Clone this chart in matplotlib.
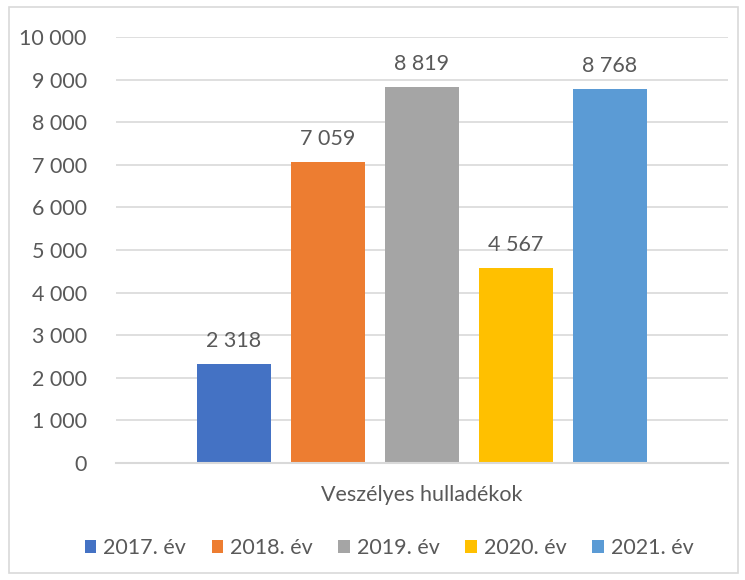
import matplotlib.pyplot as plt
from matplotlib.patches import Rectangle

category = "Veszélyes hulladékok"
years = ["2017. év", "2018. év", "2019. év", "2020. év", "2021. év"]
values = [2318, 7059, 8819, 4567, 8768]
colors = ["#4472C4", "#ED7D31", "#A5A5A5", "#FFC000", "#5B9BD5"]
yticks = list(range(0, 10001, 1000))

text_color = "#595959"
fs = 15.5
plt.rcParams["font.family"] = ["Lato", "DejaVu Sans"]


def fmt(v):
    return "{:,}".format(v).replace(",", " ")


fig = plt.figure(figsize=(7.45, 5.8), dpi=100)
# chart border
fig.patches.append(Rectangle((9 / 745, 7 / 580), 729 / 745, 566 / 580,
                             transform=fig.transFigure, fill=False,
                             edgecolor="#D9D9D9", linewidth=1.2))

ax = fig.add_axes([116 / 745, 1 - 463 / 580, 612 / 745, 426 / 580])

n = len(values)
width = 74 / 612
step = 94 / 612
start = 0.5 - step * (n - 1) / 2
for i, (lab, v, c) in enumerate(zip(years, values, colors)):
    x = start + i * step
    ax.bar(x, v, width=width, color=c, label=lab, zorder=3)
    ax.text(x, v + 310, fmt(v), ha="center", va="bottom",
            fontsize=fs, color=text_color)

ax.set_xlim(0, 1)
ax.set_ylim(0, 10000)
ax.set_yticks(yticks)
ax.set_yticklabels([fmt(t) for t in yticks], fontsize=fs, color=text_color)
ax.tick_params(axis="y", length=0, pad=21)
ax.set_xticks([0.5])
ax.set_xticklabels([category], fontsize=fs, color=text_color)
ax.tick_params(axis="x", length=0, pad=16)
ax.grid(axis="y", color="#D9D9D9", linewidth=1.2, zorder=0)
for s in ["top", "right", "left"]:
    ax.spines[s].set_visible(False)
ax.spines["bottom"].set_color("#D9D9D9")
ax.spines["bottom"].set_linewidth(1.5)
ax.spines["bottom"].set_zorder(4)

fig.legend(loc="center", bbox_to_anchor=(389 / 745, 1 - 548 / 580), ncol=n,
           frameon=False, fontsize=fs, handlelength=0.55, handleheight=0.55,
           handletextpad=0.3, columnspacing=1.2, labelcolor=text_color)

fig.savefig("out.png", dpi=100)
